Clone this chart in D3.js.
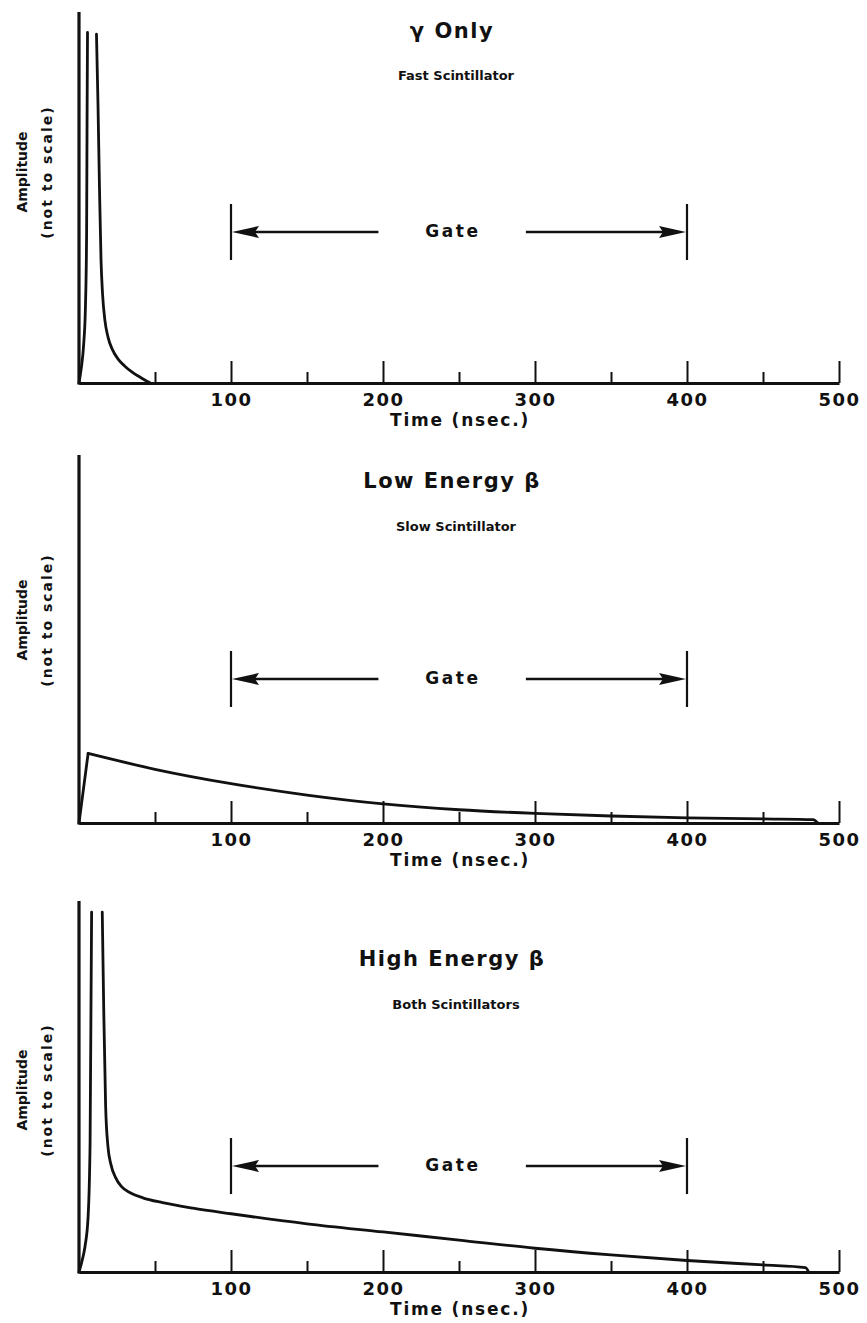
<!DOCTYPE html>
<html>
<head>
<meta charset="utf-8">
<script src="https://cdn.jsdelivr.net/npm/d3@7"></script>
<style>
  html, body { margin: 0; padding: 0; background: #fff; }
  svg { display: block; }
  text { font-family: "DejaVu Sans", "Liberation Sans", Arial, sans-serif; font-weight: bold; fill: #111; }
</style>
</head>
<body>
<svg id="chart" width="867" height="1323"></svg>
<script>
// ---------- data ----------
const majorTicks = [100, 200, 300, 400, 500];
const minorTicks = [50, 150, 250, 350, 450];
const tickLabels = ["100", "200", "300", "400", "500"];
const xLabel = "Time (nsec.)";
const yLabel1 = "Amplitude";
const yLabel2 = "(not to scale)";
const gateLabel = "Gate";
const gateStart = 100;
const gateEnd = 400;

const titles = ["\u03b3 Only", "Low Energy \u03b2", "High Energy \u03b2"];
const subtitles = ["Fast Scintillator", "Slow Scintillator", "Both Scintillators"];

// gamma only – fast scintillator pulse (time ns, relative amplitude)
// rising edge and falling edge are drawn as separate strokes
const fastRiseTime = [0, 1.5, 3, 4.2, 5, 5.3, 5.6];
const fastRiseAmp  = [0, 4, 10, 20, 40, 70, 94.5];
const fastFallTime = [11.5, 12.5, 13.5, 14.5, 15.5, 17, 19, 22, 26, 30, 35, 40, 45, 47];
const fastFallAmp  = [94, 75, 52, 33, 24, 17, 12.5, 9, 6.3, 4.6, 2.9, 1.6, 0.4, 0];

// low energy beta – slow scintillator pulse
const slowRiseTime = [0, 6];
const slowRiseAmp  = [0, 18.9];
const slowFallTime = [6, 50, 100, 150, 200, 250, 300, 350, 400, 450, 483, 486];
const slowFallAmp  = [18.9, 14.6, 10.7, 7.6, 5.2, 3.6, 2.6, 1.9, 1.4, 1.1, 0.9, 0];

// high energy beta – both scintillators
const bothRiseTime = [0, 2, 4, 6, 7.3, 8.3];
const bothRiseAmp  = [0, 3, 7, 15, 35, 97];
const bothFallTime = [15.3, 16.3, 17.5, 19, 21, 24, 28, 34, 42, 55, 75, 100, 150, 200, 250, 300, 350, 400, 450, 478, 480];
const bothFallAmp  = [97, 70, 45, 34, 29, 25.5, 23, 21.3, 20, 18.7, 17.2, 15.7, 13, 10.8, 8.6, 6.4, 4.6, 3.1, 1.9, 1.2, 0];

// ---------- layout ----------
const svg = d3.select("#chart");
const x = d3.scaleLinear().domain([0, 500]).range([79, 839]);

const panels = [
  { top: 12,  base: 383,  titleY: 32,  subY: 76,   gateY: 232,  ylabY: 172,
    segs: [[fastRiseTime, fastRiseAmp], [fastFallTime, fastFallAmp]] },
  { top: 455, base: 823,  titleY: 482, subY: 527,  gateY: 679,  ylabY: 620,
    segs: [[slowRiseTime, slowRiseAmp], [slowFallTime, slowFallAmp]] },
  { top: 901, base: 1272, titleY: 960, subY: 1005, gateY: 1166, ylabY: 1090,
    segs: [[bothRiseTime, bothRiseAmp], [bothFallTime, bothFallAmp]] }
];

panels.forEach((p, i) => {
  const g = svg.append("g");
  const y = d3.scaleLinear().domain([0, 100]).range([p.base, p.top]);

  // minor ticks
  g.append("g")
    .attr("transform", `translate(0,${p.base})`)
    .call(d3.axisBottom(x).tickValues(minorTicks).tickSize(-11).tickSizeOuter(0).tickFormat(""))
    .call(a => a.select(".domain").remove())
    .call(a => a.selectAll("line").attr("stroke", "#111").attr("stroke-width", 2));

  // major ticks + labels + baseline
  g.append("g")
    .attr("transform", `translate(0,${p.base})`)
    .call(d3.axisBottom(x).tickValues(majorTicks).tickSize(-22).tickSizeOuter(0)
      .tickPadding(10).tickFormat((d, k) => tickLabels[k]))
    .call(a => a.select(".domain").attr("stroke", "#111").attr("stroke-width", 3))
    .call(a => a.selectAll("line").attr("stroke", "#111").attr("stroke-width", 2))
    .call(a => a.selectAll("text")
      .attr("font-size", 18).attr("font-family", "DejaVu Sans, sans-serif")
      .attr("font-weight", "bold").attr("fill", "#111").attr("letter-spacing", 1.5));

  // y axis (vertical line, no ticks)
  g.append("line")
    .attr("x1", x(0)).attr("x2", x(0))
    .attr("y1", y(0) + 1.5).attr("y2", p.top)
    .attr("stroke", "#111").attr("stroke-width", 3.2);

  // pulse curve segments
  const line = d3.line().x(d => x(d[0])).y(d => y(d[1])).curve(d3.curveMonotoneX);
  p.segs.forEach(([ts, as]) => {
    g.append("path")
      .datum(ts.map((t, k) => [t, as[k]]))
      .attr("fill", "none")
      .attr("stroke", "#111")
      .attr("stroke-width", 2.8)
      .attr("stroke-linejoin", "round")
      .attr("stroke-linecap", "round")
      .attr("d", line);
  });

  // x label
  g.append("text")
    .attr("x", 460).attr("y", p.base + 38)
    .attr("text-anchor", "middle").attr("dominant-baseline", "middle")
    .attr("font-size", 17).attr("letter-spacing", 1.8)
    .text(xLabel);

  // y labels
  g.append("text")
    .attr("transform", `translate(23,${p.ylabY}) rotate(-90)`)
    .attr("text-anchor", "middle").attr("dominant-baseline", "middle")
    .attr("font-size", 14)
    .text(yLabel1);
  g.append("text")
    .attr("transform", `translate(48,${p.ylabY}) rotate(-90)`)
    .attr("text-anchor", "middle").attr("dominant-baseline", "middle")
    .attr("font-size", 14).attr("letter-spacing", 2)
    .text(yLabel2);

  // titles
  g.append("text")
    .attr("x", 452).attr("y", p.titleY)
    .attr("text-anchor", "middle").attr("dominant-baseline", "middle")
    .attr("font-size", 21).attr("letter-spacing", 1.5)
    .text(titles[i]);
  g.append("text")
    .attr("x", 456).attr("y", p.subY)
    .attr("text-anchor", "middle").attr("dominant-baseline", "middle")
    .attr("font-size", 13)
    .text(subtitles[i]);

  // gate markers
  const gy = p.gateY;
  [gateStart, gateEnd].forEach(t => {
    g.append("line")
      .attr("x1", x(t)).attr("x2", x(t))
      .attr("y1", gy - 28).attr("y2", gy + 28)
      .attr("stroke", "#111").attr("stroke-width", 2.2);
  });
  const leftEnd = x(197), rightStart = x(294);
  g.append("line").attr("x1", x(gateStart) + 20).attr("x2", leftEnd)
    .attr("y1", gy).attr("y2", gy).attr("stroke", "#111").attr("stroke-width", 2.4);
  g.append("line").attr("x1", rightStart).attr("x2", x(gateEnd) - 20)
    .attr("y1", gy).attr("y2", gy).attr("stroke", "#111").attr("stroke-width", 2.4);
  const xs = x(gateStart), xe = x(gateEnd);
  g.append("path")
    .attr("d", `M${xs + 1},${gy} L${xs + 28},${gy - 6} L${xs + 24},${gy} L${xs + 28},${gy + 6} Z`)
    .attr("fill", "#111");
  g.append("path")
    .attr("d", `M${xe - 1},${gy} L${xe - 28},${gy - 6} L${xe - 24},${gy} L${xe - 28},${gy + 6} Z`)
    .attr("fill", "#111");
  g.append("text")
    .attr("x", x(246)).attr("y", gy)
    .attr("text-anchor", "middle").attr("dominant-baseline", "middle")
    .attr("font-size", 17).attr("letter-spacing", 2.5)
    .text(gateLabel);
});
</script>
</body>
</html>
